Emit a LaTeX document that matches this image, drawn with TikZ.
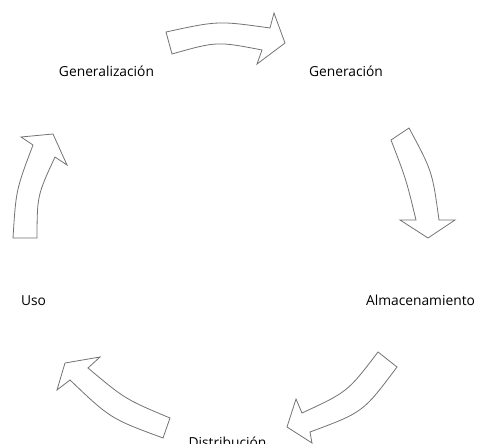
\documentclass[tikz,border=0pt]{standalone}
\usepackage{fontspec}
\setmainfont{Open Sans}
\begin{document}
\begin{tikzpicture}[x=1pt,y=-1pt,
  blockarrow/.style={draw=black!55, line width=0.8pt, fill=white, line join=miter},
  stage/.style={anchor=base, inner sep=0pt, font=\fontsize{13.8}{16}\selectfont, text=black}]
  \useasboundingbox (0,0) rectangle (477,444);

  % stage labels
  \node[stage] (gen)  at (106.5,77) {Generalización};
  \node[stage] (gnr)  at (346,77)   {Generación};
  \node[stage] (alm)  at (420.5,305) {Almacenamiento};
  \node[stage] (uso)  at (33.5,305) {Uso};
  \node[stage] (dist) at (227.5,447) {Distribución};

  % curved block arrows around the cycle
  % Generalización -> Generación
  \draw[blockarrow] (166,32) .. controls (218,20.7) .. (270,28) -- (274,13) -- (285,43)
    -- (257,64) -- (262,50) .. controls (217,41.3) .. (172,54) -- cycle;
  % Generación -> Almacenamiento
  \draw[blockarrow] (409,128) .. controls (432.3,171.3) .. (439,220) -- (455,220) -- (428,238)
    -- (400,220) -- (416,220) .. controls (406.1,179.2) .. (391,140) -- cycle;
  % Almacenamiento -> Distribución
  \draw[blockarrow] (378,352) .. controls (347.6,391.9) .. (302,413) -- (296,399) -- (287,427)
    -- (312,443) -- (310,432) .. controls (363.1,412.3) .. (397,367) -- cycle;
  % Distribución -> Uso
  \draw[blockarrow] (170,418) .. controls (125.2,399.2) .. (88,368) -- (100,357) -- (65,363)
    -- (57,390) -- (70,380) .. controls (110.5,418.6) .. (163,438) -- cycle;
  % Uso -> Generalización
  \draw[blockarrow] (37,238) .. controls (37.2,195.5) .. (55,157) -- (67,165) -- (53,134)
    -- (21,137) -- (33,145) .. controls (16,190) .. (13,238) -- cycle;
\end{tikzpicture}
\end{document}
